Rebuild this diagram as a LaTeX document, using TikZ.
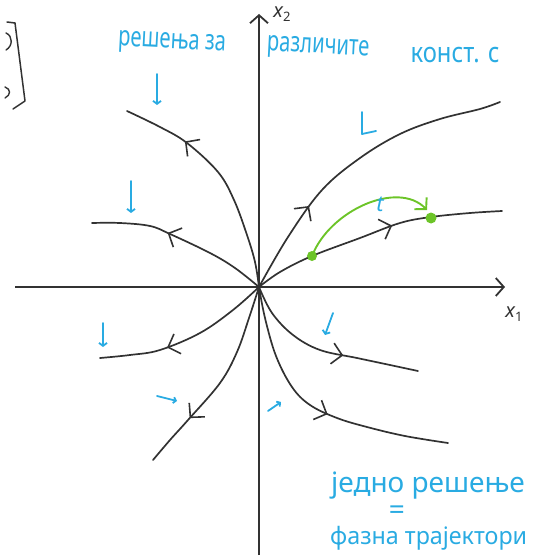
\documentclass[tikz,border=0pt]{standalone}
\usepackage{fontspec}
\setmainfont{Noto Sans}
\usetikzlibrary{arrows.meta,decorations.markings}
\definecolor{hblue}{RGB}{41,171,226}
\definecolor{hgreen}{RGB}{108,196,40}
\definecolor{ink}{RGB}{50,50,50}
\tikzset{
  traj/.style={draw=ink,line width=1.7pt,line cap=round},
  chev/.style={postaction={decorate},decoration={markings,mark=at position #1 with {\arrow[ink,line width=1.6pt]{Straight Barb[length=10pt,width=21pt]}}}},
  axis/.style={draw=ink,line width=1.8pt,-{Straight Barb[length=8pt,width=18pt,line width=1.8pt]}},
  bluemark/.style={draw=hblue,line width=1.8pt,line cap=round,line join=round},
  bluetext/.style={text=hblue,inner sep=0pt,font=\fontsize{28}{30}\selectfont},
  lab/.style={text=ink,inner sep=0pt,font=\fontsize{20}{22}\selectfont\itshape}
}
\begin{document}
\begin{tikzpicture}[x=1pt,y=-1pt]
\useasboundingbox (0,0) rectangle (539,559);
\clip (0,0) rectangle (539,559);
\coordinate (O) at (259,287);
% axes
\draw[axis] (15,287) -- (505,287);
\draw[axis] (259,555) -- (259,14);
\node[lab] (x2) at (282,14) {x\raisebox{-4pt}{\fontsize{13}{14}\selectfont\upshape 2}};
\node[lab] (x1) at (514,314) {x\raisebox{-4pt}{\fontsize{13}{14}\selectfont\upshape 1}};
% trajectories
\draw[traj,chev=0.3] plot[smooth,tension=0.6] coordinates {(O) (288,237) (322,190) (360,158) (400,134) (440,119) (480,109) (500,102)};
\draw[traj,chev=0.57] plot[smooth,tension=0.6] coordinates {(O) (280,272) (312,256) (360,238) (400,223) (431,217) (470,213) (502,211)};
\draw[traj,chev=0.72] plot[smooth,tension=0.6] coordinates {(O) (255,262) (247,235) (234,200) (218,172) (187,143) (160,127) (127,111)};
\draw[traj,chev=0.58] plot[smooth,tension=0.6] coordinates {(O) (235,268) (210,253) (170,234) (150,226) (120,223) (92,223)};
\draw[traj,chev=0.62] plot[smooth,tension=0.6] coordinates {(O) (233,310) (200,333) (160,350) (130,355) (100,358)};
\draw[traj,chev=0.73] plot[smooth,tension=0.6] coordinates {(O) (249,318) (237,352) (220,383) (188,420) (170,440) (153,460)};
\draw[traj,chev=0.6] plot[smooth,tension=0.6] coordinates {(O) (272,313) (293,335) (320,350) (357,358) (390,365) (418,371)};
\draw[traj,chev=0.55] plot[smooth,tension=0.6] coordinates {(O) (265,318) (276,356) (292,387) (310,405) (337,418) (367,427) (405,436) (448,443)};
% green solution
\draw[hgreen,line width=1.9pt,-{Straight Barb[length=8pt,width=17pt,line width=1.9pt]}] (312,256) .. controls (330,210) and (398,180) .. (427,210);
\fill[hgreen] (312,256) circle (5);
\fill[hgreen] (431,218) circle (5.5);
\node[text=hblue,inner sep=0pt,font=\fontsize{22}{24}\selectfont\itshape] (t) at (380,204) {t};
% blue marks
\draw[bluemark,-{Straight Barb[length=3pt,width=8pt,line width=1.8pt]}] (157,74) -- (157,105);
\draw[bluemark,-{Straight Barb[length=3pt,width=8pt,line width=1.8pt]}] (131,181) -- (131,213);
\draw[bluemark] (362,112) -- (362,134) -- (376,131);
\draw[bluemark,-{Straight Barb[length=3pt,width=8pt,line width=1.8pt]}] (103,323) -- (103,347);
\draw[bluemark,-{Straight Barb[length=3pt,width=8pt,line width=1.8pt]}] (333,313) -- (325,335);
\draw[bluemark,-{Straight Barb[length=2.5pt,width=6pt,line width=1.8pt]}] (157,396) -- (177,401);
\draw[bluemark,-{Straight Barb[length=2.5pt,width=6pt,line width=1.8pt]}] (268,411) -- (281,402);
% texts
\node[bluetext,rotate=-3] (s1) at (172,44) {\scalebox{0.72}[1]{решења за}};
\node[bluetext,rotate=-3] (s2) at (318,49) {\scalebox{0.72}[1]{различите}};
\node[bluetext] (s3) at (455,55) {\scalebox{0.85}[1]{конст. c}};
\node[bluetext] (b1) at (428,486) {\scalebox{1.0}[1]{једно решење}};
\node[bluetext] (b2) at (397,513) {=};
\node[bluetext,anchor=west,font=\fontsize{24}{26}\selectfont] (b3) at (330,538) {\scalebox{0.97}[1]{фазна трајектори}};
% bracket fragments (top left)
\draw[ink,line width=1.5pt,line cap=round,line join=round] (7,22) -- (15,23) -- (25,101) -- (13,109);
\draw[ink,line width=1.4pt,line cap=round] (6,33) .. controls (13,36) and (13,46) .. (6,50);
\draw[ink,line width=1.4pt,line cap=round] (5,87) .. controls (11,89) and (11,95) .. (5,98);
\end{tikzpicture}
\end{document}
